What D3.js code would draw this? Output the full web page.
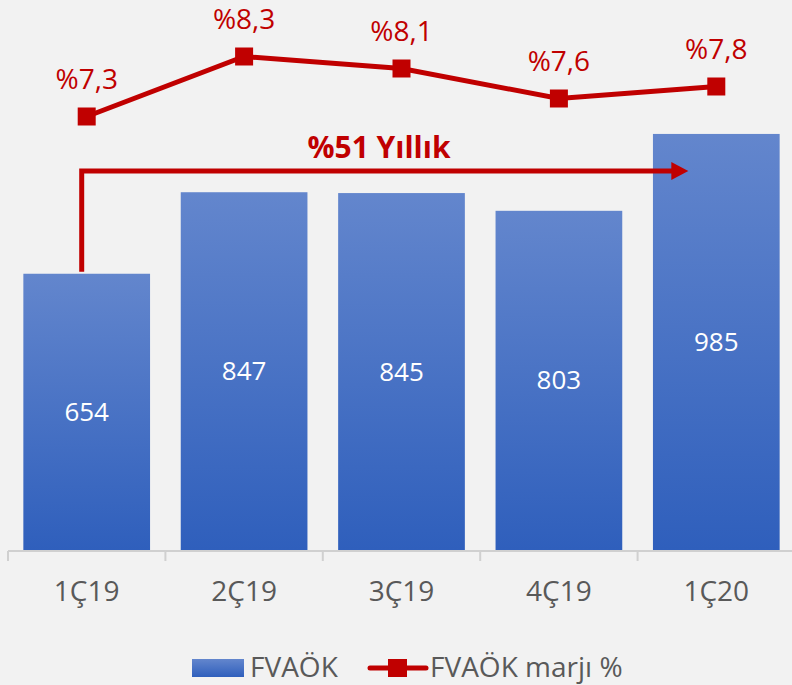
<!DOCTYPE html>
<html>
<head>
  <meta charset="utf-8">
  <script src="https://d3js.org/d3.v7.min.js"></script>
  <style>
    body { margin: 0; background: #f2f2f2; }
    svg { display: block; font-family: "Open Sans", sans-serif; }
  </style>
</head>
<body>
  <svg id="chart" width="792" height="685"></svg>
  <script>
    // data
    const quarters = ["1Ç19", "2Ç19", "3Ç19", "4Ç19", "1Ç20"];
    const fvaok = [654, 847, 845, 803, 985];
    const marj = [7.3, 8.3, 8.1, 7.6, 7.8];
    const marjLabels = ["%7,3", "%8,3", "%8,1", "%7,6", "%7,8"];
    const growthLabel = "%51 Yıllık";

    const red = "#c00000";
    const svg = d3.select("#chart");

    svg.append("rect").attr("width", 792).attr("height", 685).attr("fill", "#f2f2f2");

    const defs = svg.append("defs");
    const grad = defs.append("linearGradient")
      .attr("id", "barGrad").attr("x1", 0).attr("y1", 0).attr("x2", 0).attr("y2", 1);
    grad.append("stop").attr("offset", "0%").attr("stop-color", "#6386cd");
    grad.append("stop").attr("offset", "100%").attr("stop-color", "#2f5fbc");

    const x = d3.scaleBand().domain(quarters).range([8, 795]).paddingInner(0.195).paddingOuter(0.0975);
    const y = d3.scaleLinear().domain([0, 1000]).range([550, 127.6]);
    const y2 = d3.scaleLinear().domain([7.3, 8.3]).range([116.5, 56.5]);

    // bars
    svg.append("g").selectAll("rect")
      .data(fvaok)
      .join("rect")
      .attr("x", (d, i) => x(quarters[i]))
      .attr("y", d => y(d))
      .attr("width", x.bandwidth())
      .attr("height", d => y(0) - y(d))
      .attr("fill", "url(#barGrad)");

    svg.append("g").selectAll("text")
      .data(fvaok)
      .join("text")
      .attr("x", (d, i) => x(quarters[i]) + x.bandwidth() / 2)
      .attr("y", d => (y(d) + y(0)) / 2 + 9)
      .attr("text-anchor", "middle")
      .attr("fill", "#fff")
      .attr("font-size", 26)
      .text(d => d);

    // x axis
    const step = x.step();
    const axis = svg.append("g").attr("transform", "translate(0,551)");
    axis.append("line").attr("x1", 8).attr("x2", 792).attr("stroke", "#d0d0d0").attr("stroke-width", 2);
    axis.selectAll(".sep")
      .data(d3.range(6))
      .join("line")
      .attr("class", "sep")
      .attr("x1", i => 8 + i * step).attr("x2", i => 8 + i * step)
      .attr("y1", 0).attr("y2", 10)
      .attr("stroke", "#d0d0d0").attr("stroke-width", 2);
    svg.append("g").selectAll("text")
      .data(quarters)
      .join("text")
      .attr("x", d => x(d) + x.bandwidth() / 2)
      .attr("y", 601)
      .attr("text-anchor", "middle")
      .attr("fill", "#595959")
      .attr("font-size", 28)
      .text(d => d);

    // margin line
    const cx = (d, i) => x(quarters[i]) + x.bandwidth() / 2;
    const line = d3.line().x(cx).y(d => y2(d));
    svg.append("path").datum(marj)
      .attr("d", line)
      .attr("fill", "none")
      .attr("stroke", red)
      .attr("stroke-width", 5);
    svg.append("g").selectAll("rect")
      .data(marj)
      .join("rect")
      .attr("x", (d, i) => cx(d, i) - 9)
      .attr("y", d => y2(d) - 9)
      .attr("width", 18).attr("height", 18)
      .attr("fill", red);
    svg.append("g").selectAll("text")
      .data(marj)
      .join("text")
      .attr("x", cx)
      .attr("y", d => y2(d) - 28)
      .attr("text-anchor", "middle")
      .attr("fill", red)
      .attr("font-size", 28)
      .text((d, i) => marjLabels[i]);

    // growth arrow
    const ax0 = x(quarters[0]) + x.bandwidth() / 2 - 5;
    const ax1 = x(quarters[4]) + x.bandwidth() / 2 - 28;
    const ay = 171;
    svg.append("path")
      .attr("d", `M${ax0},${y(fvaok[0]) - 2}V${ay}H${ax1 - 10}`)
      .attr("fill", "none").attr("stroke", red).attr("stroke-width", 5);
    svg.append("path")
      .attr("d", `M${ax1 - 17},${ay - 9}L${ax1},${ay}L${ax1 - 17},${ay + 9}Z`)
      .attr("fill", red);
    svg.append("text")
      .attr("x", 379).attr("y", 158)
      .attr("text-anchor", "middle")
      .attr("fill", red)
      .attr("font-size", 30)
      .attr("font-weight", "bold")
      .text(growthLabel);

    // legend
    const lg = svg.append("g");
    lg.append("rect").attr("x", 192).attr("y", 659).attr("width", 52).attr("height", 18).attr("fill", "url(#barGrad)");
    lg.append("text").attr("x", 250).attr("y", 677).attr("fill", "#595959").attr("font-size", 28).text("FVAÖK");
    lg.append("line").attr("x1", 370).attr("x2", 426).attr("y1", 668).attr("y2", 668)
      .attr("stroke", red).attr("stroke-width", 5).attr("stroke-linecap", "round");
    lg.append("rect").attr("x", 388).attr("y", 659).attr("width", 19).attr("height", 18).attr("fill", red);
    lg.append("text").attr("x", 430).attr("y", 677).attr("fill", "#595959").attr("font-size", 28).text("FVAÖK marjı %");
  </script>
</body>
</html>
